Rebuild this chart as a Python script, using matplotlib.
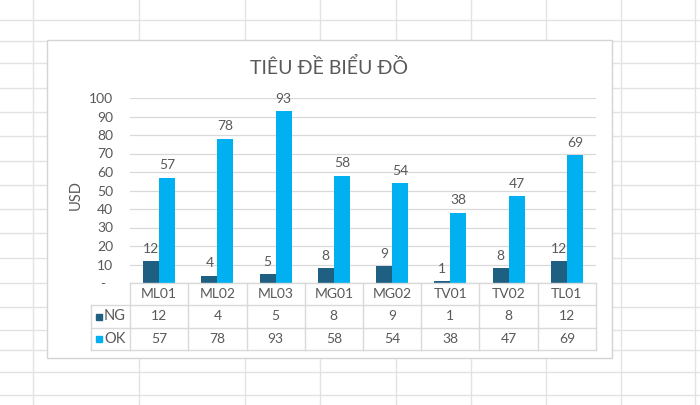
import matplotlib
matplotlib.use("Agg")
import matplotlib.pyplot as plt
from matplotlib.lines import Line2D
from matplotlib.patches import Rectangle

plt.rcParams['font.family'] = ['Lato', 'Liberation Sans', 'DejaVu Sans']

# ---- data ----
categories = ["ML01", "ML02", "ML03", "MG01", "MG02", "TV01", "TV02", "TL01"]
ng_values = [12, 4, 5, 8, 9, 1, 8, 12]
ok_values = [57, 78, 93, 58, 54, 38, 47, 69]
series_names = ["NG", "OK"]
y_ticks = [0, 10, 20, 30, 40, 50, 60, 70, 80, 90, 100]
y_tick_labels = ["-  ", "10", "20", "30", "40", "50", "60", "70", "80", "90", "100"]
title = "TIÊU ĐỀ BIỂU ĐỒ"
y_label = "USD"

NG_COLOR = "#1F5F82"
OK_COLOR = "#00B0F0"
TEXT = "#595959"
GRID = "#D9D9D9"
SHEET = "#E3E3E3"

W, H = 700, 405
fig = plt.figure(figsize=(7, 4.05), dpi=100)
fig.patch.set_facecolor("white")

def fx(px):
    return px / W

def fy(py):
    return 1 - py / H

# spreadsheet grid behind the chart
for yy in [20, 41, 63, 88, 112, 136, 161, 185, 209, 233, 258, 283, 307, 330, 350, 372, 395]:
    fig.add_artist(Line2D([0, 1], [fy(yy), fy(yy)], transform=fig.transFigure,
                          color=SHEET, lw=1, zorder=0))
for xx in [33, 139, 245, 320, 396, 471, 546, 621, 695]:
    fig.add_artist(Line2D([fx(xx), fx(xx)], [0, 1], transform=fig.transFigure,
                          color=SHEET, lw=1, zorder=0))

# chart area
fig.add_artist(Rectangle((fx(47), fy(358)), fx(612) - fx(47), fy(40) - fy(358),
                         transform=fig.transFigure, facecolor="white",
                         edgecolor="#D4D4D4", lw=1, zorder=1))

fig.text(fx(329), fy(67), title, ha="center", va="center", fontsize=14, color=TEXT, zorder=6)
fig.text(fx(76), fy(195), y_label, ha="center", va="center", rotation=90,
         fontsize=10.5, color=TEXT, zorder=6)

# plot area
ax = fig.add_axes([fx(130), fy(283), fx(596) - fx(130), fy(98) - fy(283)])
ax.set_zorder(5)
ax.patch.set_alpha(0)
n = len(categories)
x = list(range(n))
bw = 0.275
ax.bar([i - bw / 2 for i in x], ng_values, width=bw, color=NG_COLOR, zorder=3)
ax.bar([i + bw / 2 for i in x], ok_values, width=bw, color=OK_COLOR, zorder=3)
for i in x:
    ax.annotate(str(ng_values[i]), (i - bw / 2, ng_values[i]), xytext=(0, 4.5),
                textcoords="offset points", ha="center", va="bottom",
                fontsize=10, color=TEXT)
    ax.annotate(str(ok_values[i]), (i + bw / 2, ok_values[i]), xytext=(0, 4.5),
                textcoords="offset points", ha="center", va="bottom",
                fontsize=10, color=TEXT)
ax.set_xlim(-0.5, n - 0.5)
ax.set_ylim(0, 100)
ax.set_yticks(y_ticks)
ax.set_yticklabels(y_tick_labels, fontsize=10, color=TEXT)
ax.tick_params(axis="y", length=0, pad=12)
ax.set_xticks([])
ax.yaxis.grid(True, color=GRID, lw=0.9)
ax.set_axisbelow(True)
for s in ax.spines.values():
    s.set_visible(False)

# data table
unit = (596 - 130) / n
leg_w = (130 - 91) / unit
tax = fig.add_axes([fx(91), fy(350), fx(596) - fx(91), fy(283) - fy(350)])
tax.set_zorder(5)
tax.patch.set_alpha(0)
tax.set_xlim(-0.5 - leg_w, n - 0.5)
tax.set_ylim(3, 0)
tax.axis("off")
tax.plot([-0.5, n - 0.5], [0, 0], color=GRID, lw=1, clip_on=False)
for r in [1, 2, 3]:
    tax.plot([-0.5 - leg_w, n - 0.5], [r, r], color=GRID, lw=1, clip_on=False)
for k in range(n + 1):
    tax.plot([k - 0.5, k - 0.5], [0, 3], color=GRID, lw=1, clip_on=False)
tax.plot([-0.5 - leg_w, -0.5 - leg_w], [1, 3], color=GRID, lw=1, clip_on=False)
for i, c in enumerate(categories):
    tax.text(i, 0.5, c, ha="center", va="center", fontsize=10, color=TEXT)
    tax.text(i, 1.5, str(ng_values[i]), ha="center", va="center", fontsize=10, color=TEXT)
    tax.text(i, 2.5, str(ok_values[i]), ha="center", va="center", fontsize=10, color=TEXT)
for r, (name, col) in enumerate(zip(series_names, [NG_COLOR, OK_COLOR])):
    mx = (99 - 130) / unit - 0.5
    tax.plot([mx], [1.5 + r], marker="s", ms=4.5, color=col, clip_on=False)
    tax.text((104 - 130) / unit - 0.5, 1.5 + r, name, ha="left", va="center",
             fontsize=10.5, color=TEXT)

fig.savefig("out.png", dpi=100)
